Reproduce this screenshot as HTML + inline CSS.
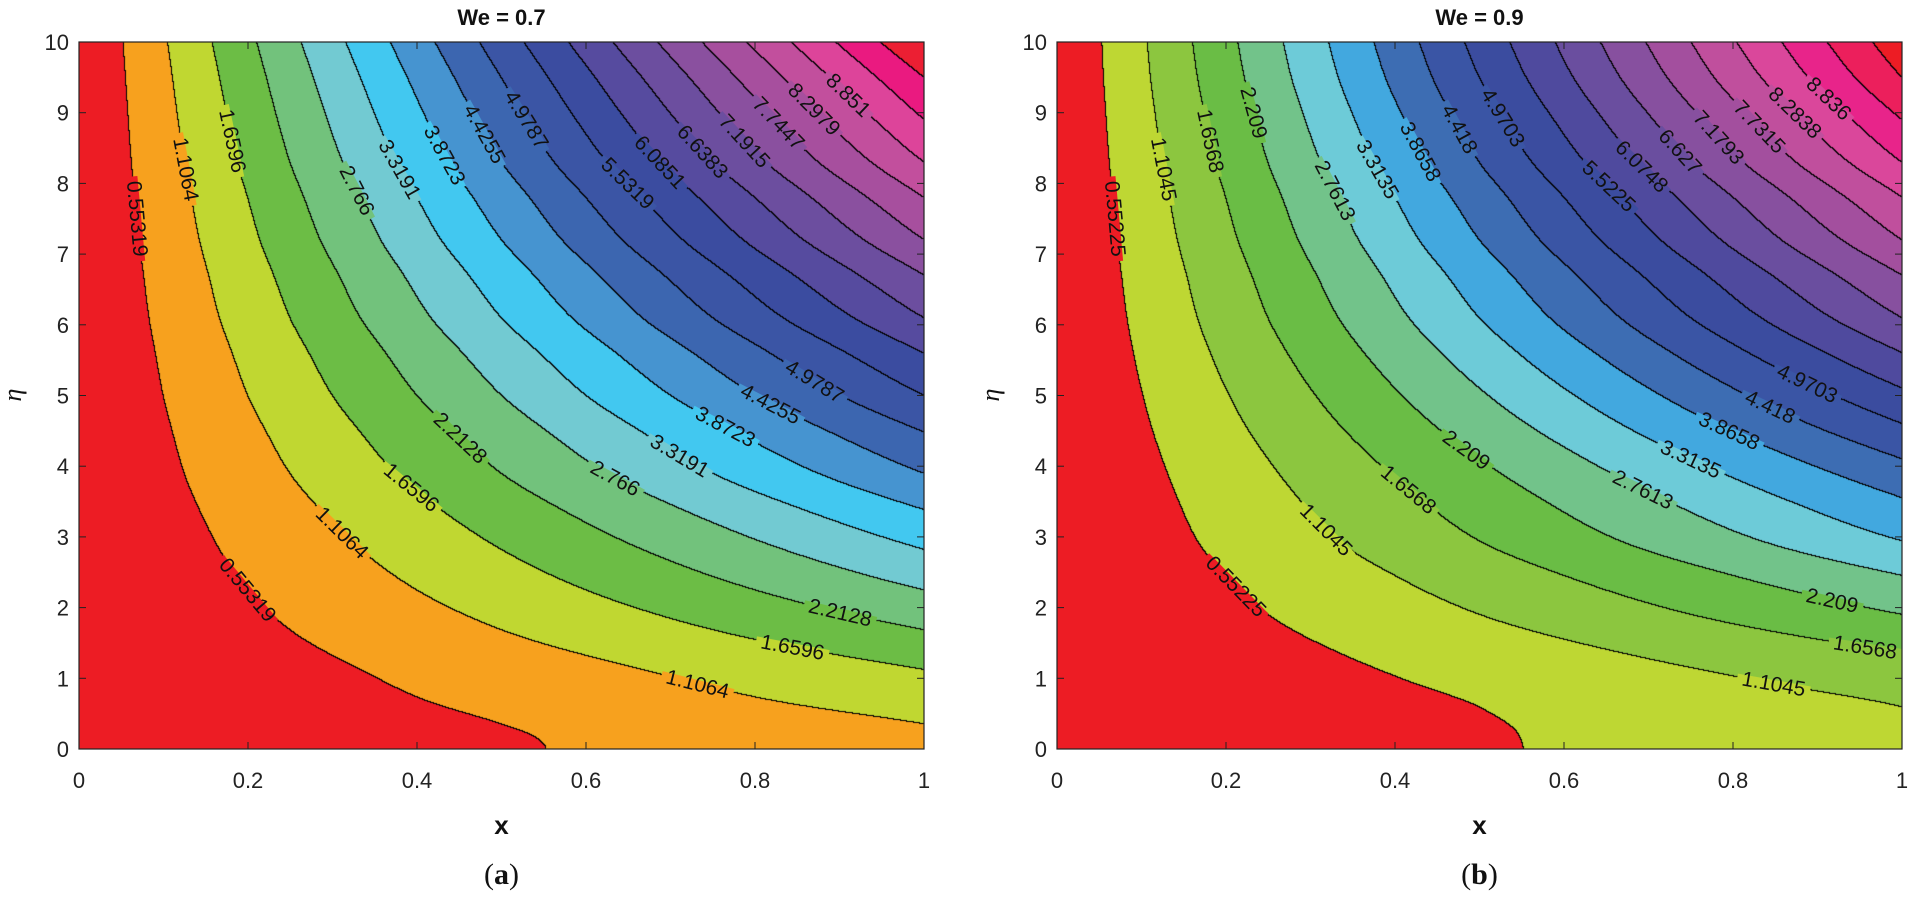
<!DOCTYPE html>
<html><head><meta charset="utf-8"><style>
html,body{margin:0;padding:0;background:#fff;}
#wrap{position:relative;width:1912px;height:898px;overflow:hidden;font-family:"Liberation Sans",sans-serif;}
canvas{position:absolute;}
svg{position:absolute;left:0;top:0;}
</style></head><body>
<div id="wrap">
<canvas id="ca" width="845" height="707" style="left:79px;top:42px"></canvas>
<canvas id="cb" width="845" height="707" style="left:1057px;top:42px"></canvas>
<svg id="sv" width="1912" height="898"></svg>
</div>
<script>
// ---- data ----
const stepA = 0.55319;
const stepB = 0.55225;
const etaA = [0,0.15,0.35,0.7,1.12,1.68,2.25,2.82,3.38,3.9,4.48,5.0,5.6,6.1,6.7,7.2,7.8,8.3,8.9,9.5,10];
const gA   = [1,1.02,1.106,1.36,1.66,2.21,2.77,3.32,3.87,4.43,4.98,5.53,6.09,6.64,7.19,7.74,8.30,8.85,9.40,9.96,10.5];
const etaB = [0,0.2,0.59,1.0,1.36,1.9,2.45,2.94,3.55,4.1,4.6,5.1,5.6,6.1,6.7,7.2,7.8,8.3,8.9,9.5,10];
const gB   = [1,1.01,1.1045,1.36,1.6568,2.209,2.761,3.3135,3.866,4.418,4.97,5.52,6.07,6.63,7.18,7.73,8.28,8.84,9.39,9.94,10.3];
const colorsA = ['#ed1c24','#f7a11e','#c0d731','#6cbd45','#72c27c','#72cad2','#42c8f0','#4694d0','#3c66b0','#3b55a5','#3b4ca0','#564b9f','#6c4e9f','#8a509f','#a74f9e','#c24f9d','#dd449a','#ea1a80','#ec1f33','#ec1f33'];
const colorsB = ['#ed1c24','#bed733','#8cc63f','#6abd45','#72c38a','#6dcbd8','#42a8df','#3d6db3','#3a55a5','#3b4c9f','#4f4a9e','#6a4e9f','#87509f','#a34f9e','#c04f9d','#da479b','#e8248a','#ec1f5c','#ed1c24','#ed1c24'];
const labelsA = ['0.55319','1.1064','1.6596','2.2128','2.766','3.3191','3.8723','4.4255','4.9787','5.5319','6.0851','6.6383','7.1915','7.7447','8.2979','8.851'];
const labelsB = ['0.55225','1.1045','1.6568','2.209','2.7613','3.3135','3.8658','4.418','4.9703','5.5225','6.0748','6.627','7.1793','7.7315','8.2838','8.836'];
const labelEtaA = [[7.5,2.25],[8.2,3.06,0.92],[8.6,3.7,1.44],[4.4,1.93],[7.9,3.83],[8.2,4.15],[8.4,4.56],[8.7,4.88],[8.9,5.2],[8.0],[8.3],[8.45],[8.6],[8.85],[9.05],[9.25]];
const labelEtaB = [[7.5,2.3],[8.2,3.1,0.92],[8.6,3.67,1.44],[9.0,4.23,2.1],[7.9,3.67],[8.2,4.1],[8.45,4.5],[8.77,4.84],[8.93,5.17],[7.96],[8.24],[8.45],[8.65],[8.8],[9.0],[9.2]];
const xTicks = [0,0.2,0.4,0.6,0.8,1];
const yTicks = [0,1,2,3,4,5,6,7,8,9,10];

const W=845,H=707,TOP=42;
const NS='http://www.w3.org/2000/svg';
const sv=document.getElementById('sv');
function mk(tag,attrs,parent){const e=document.createElementNS(NS,tag);for(const k in attrs)e.setAttribute(k,attrs[k]);(parent||sv).appendChild(e);return e;}
function makeSpline(xs,ys){
  const n=xs.length,d=[],m=new Array(n);
  for(let i=0;i<n-1;i++)d.push((ys[i+1]-ys[i])/(xs[i+1]-xs[i]));
  m[0]=0;m[n-1]=d[n-2];
  for(let i=1;i<n-1;i++){if(d[i-1]*d[i]<=0)m[i]=0;else{m[i]=2/(1/d[i-1]+1/d[i]);}}
  return function(v){
    if(v<=xs[0])return ys[0];if(v>=xs[n-1])return ys[n-1];
    let i=1;while(v>xs[i])i++;i--;
    const h=xs[i+1]-xs[i],t=(v-xs[i])/h,t2=t*t,t3=t2*t;
    return (2*t3-3*t2+1)*ys[i]+(t3-2*t2+t)*h*m[i]+(-2*t3+3*t2)*ys[i+1]+(t3-t2)*h*m[i+1];
  };
}
function hex(c){return [parseInt(c.substr(1,2),16),parseInt(c.substr(3,2),16),parseInt(c.substr(5,2),16)];}

function draw(cid,left,step,etas,gs,colors,labels,labelEtas,title,tag){
  const G=makeSpline(etas,gs);
  const cv=document.getElementById(cid),ctx=cv.getContext('2d');
  const img=ctx.createImageData(W,H);
  const gRow=[];for(let j=0;j<H;j++){gRow.push(G(10*(1-(j+0.5)/H)));}
  const band=new Int16Array(W*H);
  for(let j=0;j<H;j++)for(let i=0;i<W;i++){const x=(i+0.5)/W;band[j*W+i]=Math.floor(x*gRow[j]/step);}
  const rgb=colors.map(hex);
  for(let j=0;j<H;j++)for(let i=0;i<W;i++){
    const b=band[j*W+i];let c=rgb[Math.min(b,rgb.length-1)];
    const r=i<W-1?band[j*W+i+1]:b,d=j<H-1?band[(j+1)*W+i]:b;
    if(r!==b||d!==b)c=[0,0,0];
    const p=(j*W+i)*4;img.data[p]=c[0];img.data[p+1]=c[1];img.data[p+2]=c[2];img.data[p+3]=255;}
  ctx.putImageData(img,0,0);
  const g=mk('g',{});
  
  
  const X=v=>left+v*W, Y=v=>TOP+H-v/10*H;
  labels.forEach((txt,k)=>{
    const c=step*(k+1);
    (labelEtas[k]||[]).forEach(eta=>{
      const gv=G(eta);const xv=c/gv;
      const g2=G(eta+0.05),g1=G(eta-0.05);
      const dx=(c/g2-c/g1)*W,dy=-(0.1/10)*H;
      let ang=Math.atan2(dy,dx)*180/Math.PI;
      if(ang>90)ang-=180;if(ang<-90)ang+=180;
      const px=X(xv),py=Y(eta);
      const lg=mk('g',{transform:`translate(${px},${py}) rotate(${ang})`},g);
      
      
      const wlen=txt.length*11;
      mk('rect',{x:-wlen/2-4,y:-4,width:wlen+8,height:8,fill:colors[k]},lg);
      const t=mk('text',{x:0,y:7,'text-anchor':'middle','font-size':'21','fill':'#111','font-family':'Liberation Sans, sans-serif'},lg);
      t.textContent=txt;
    });
  });
  const fr=mk('rect',{x:left,y:TOP,width:W,height:H,fill:'none',stroke:'#222','stroke-width':1.2},g);
  
  
  xTicks.forEach(v=>{
    mk('line',{x1:X(v),x2:X(v),y1:TOP+H,y2:TOP+H-7,stroke:'#222'},g);
    mk('line',{x1:X(v),x2:X(v),y1:TOP,y2:TOP+7,stroke:'#222'},g);
    const t=mk('text',{x:X(v),y:788,'text-anchor':'middle','font-size':'22',fill:'#222'},g);
    t.textContent=String(v);
    
    
  });
  yTicks.forEach(v=>{
    mk('line',{x1:left,x2:left+7,y1:Y(v),y2:Y(v),stroke:'#222'},g);
    mk('line',{x1:left+W,x2:left+W-7,y1:Y(v),y2:Y(v),stroke:'#222'},g);
    const t=mk('text',{x:left-10,y:Y(v)+8,'text-anchor':'end','font-size':'22',fill:'#222'},g);
    t.textContent=String(v);
    
    
  });
  const tt=mk('text',{x:left+W/2,y:25,'text-anchor':'middle','font-size':'22','font-weight':'bold',fill:'#111'},g);
  tt.textContent=title;
  
  
  const xl=mk('text',{x:left+W/2,y:834,'text-anchor':'middle','font-size':'26','font-weight':'bold',fill:'#111'},g);
  xl.textContent='x';
  
  
  const yl=mk('text',{x:0,y:0,transform:`translate(${left-58},395) rotate(-90)`,'text-anchor':'middle','font-size':'26','font-style':'italic','font-family':'Liberation Serif, serif',fill:'#111'},g);
  yl.textContent='η';
  
  
  const cap=mk('text',{x:left+W/2,y:884,'text-anchor':'middle','font-size':'30','font-family':'Liberation Serif, serif',fill:'#111'},g);
  cap.innerHTML='(<tspan font-weight="bold">'+tag+'</tspan>)';
  
  
}
draw('ca',79,stepA,etaA,gA,colorsA,labelsA,labelEtaA,'We = 0.7','a');
draw('cb',1057,stepB,etaB,gB,colorsB,labelsB,labelEtaB,'We = 0.9','b');
</script>
</body></html>
